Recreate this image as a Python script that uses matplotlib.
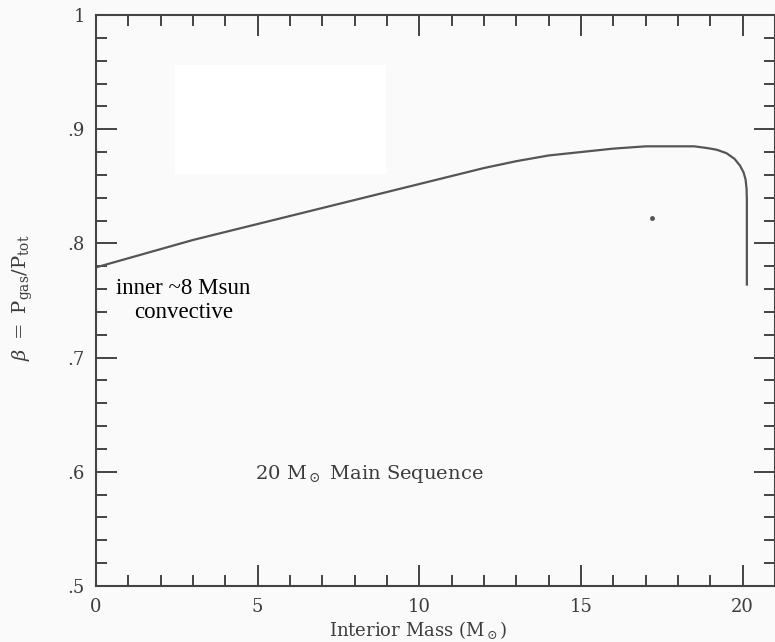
import matplotlib.pyplot as plt
from matplotlib.patches import Rectangle
from matplotlib.ticker import MultipleLocator, FixedFormatter, FixedLocator

# beta = Pgas/Ptot through a 20 Msun main-sequence star
mass = [0, 1, 2, 3, 4, 5, 6, 7, 8, 9, 10, 11, 12, 13, 14, 15, 16, 17, 18,
        18.5, 18.9, 19.2, 19.5, 19.75, 19.92, 20.03, 20.09, 20.12, 20.13,
        20.13]
beta = [0.779, 0.787, 0.795, 0.803, 0.810, 0.817, 0.824, 0.831, 0.838, 0.845,
        0.852, 0.859, 0.866, 0.872, 0.877, 0.880, 0.883, 0.885, 0.885,
        0.885, 0.8835, 0.882, 0.879, 0.874, 0.868, 0.862, 0.856, 0.848,
        0.838, 0.763]

# stray point near the curve
dot_x = [17.2]
dot_y = [0.822]

yticks = [0.5, 0.6, 0.7, 0.8, 0.9, 1.0]
ytick_labels = ['.5', '.6', '.7', '.8', '.9', '1']
xticks = [0, 5, 10, 15, 20]
xtick_labels = ['0', '5', '10', '15', '20']

ink = '#3c3c3c'
bg = '#fafafa'
plt.rcParams['font.family'] = 'DejaVu Serif'
plt.rcParams['mathtext.fontset'] = 'dejavuserif'
plt.rcParams['text.color'] = ink

fig = plt.figure(figsize=(7.75, 6.42), dpi=100, facecolor=bg)
ax = fig.add_axes([96 / 775, 56 / 642, 679 / 775, 571 / 642], facecolor=bg)

ax.plot(mass, beta, color='#555555', lw=1.6, solid_capstyle='butt',
        solid_joinstyle='round')
ax.plot(dot_x, dot_y, 'o', color='#555555', ms=2.5)

# blanked-out area in the upper left
ax.add_patch(Rectangle((2.44, 0.861), 6.54, 0.095, facecolor='white',
                       edgecolor='none', zorder=0))

ax.set_xlim(0, 21)
ax.set_ylim(0.5, 1.0)

ax.xaxis.set_major_locator(FixedLocator(xticks))
ax.xaxis.set_major_formatter(FixedFormatter(xtick_labels))
ax.xaxis.set_minor_locator(MultipleLocator(1))
ax.yaxis.set_major_locator(FixedLocator(yticks))
ax.yaxis.set_major_formatter(FixedFormatter(ytick_labels))
ax.yaxis.set_minor_locator(MultipleLocator(0.02))

ax.tick_params(which='both', direction='in', top=True, right=True,
               color='#444444', width=1.4, labelcolor=ink, labelsize=13)
ax.tick_params(which='major', length=15)
ax.tick_params(which='minor', length=8)
ax.tick_params(axis='x', pad=9)
ax.tick_params(axis='y', pad=8)
for s in ax.spines.values():
    s.set_color('#444444')
    s.set_linewidth(1.5)

ax.set_xlabel(r'Interior Mass (M$_\odot$)', fontsize=13, color=ink)
ax.xaxis.set_label_coords(0.474, -0.058)
ax.set_ylabel(r'$\beta\ =\ \mathrm{P_{gas}/P_{tot}}$', fontsize=14, color=ink)
ax.yaxis.set_label_coords(-0.09, 0.504)

ax.text(2.7, 0.750, 'inner ~8 Msun\nconvective', ha='center', va='center',
        fontsize=16.5, family='Liberation Serif', color='black',
        linespacing=1.25)
ax.text(8.46, 0.598, r'20 M$_\odot$ Main Sequence', ha='center', va='center',
        fontsize=14, color=ink)

fig.savefig('out.png', dpi=100, facecolor=bg)
